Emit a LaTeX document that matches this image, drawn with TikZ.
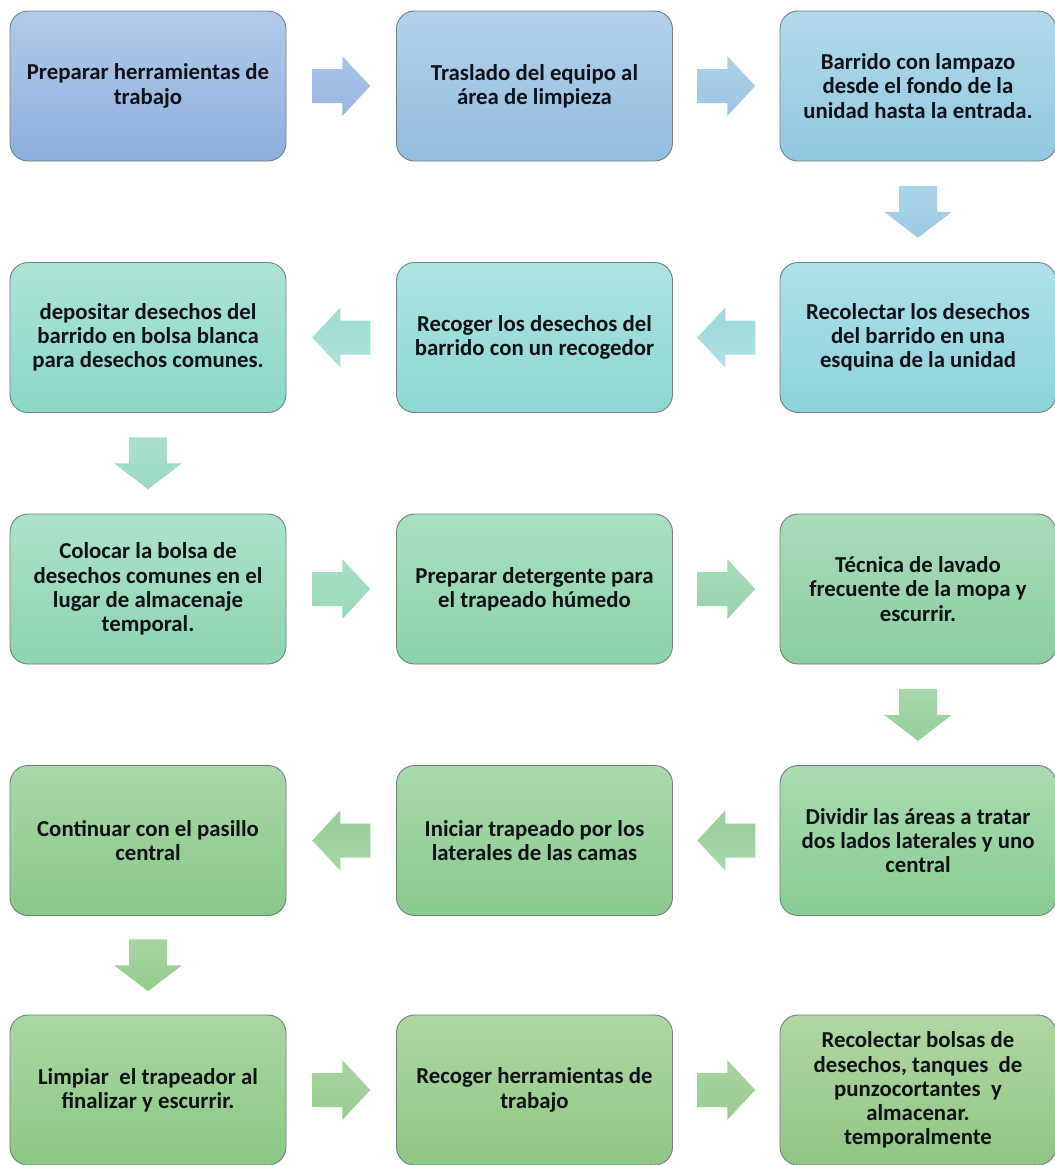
\documentclass[tikz,border=0pt]{standalone}
\usepackage{fontspec}
\setmainfont{Carlito}
\usetikzlibrary{calc}
\definecolor{txt}{HTML}{111118}
\definecolor{bord}{HTML}{6F8282}
\tikzset{
  box/.style={draw=bord, line width=0.9pt, rounded corners=18pt,
    minimum width=276pt, minimum height=150pt, inner sep=2pt,
    align=center, text=txt,
    font=\fontsize{22.8}{24.2}\selectfont\bfseries},
  harr/.pic={\path[pic actions] (-29,-17) -- (1,-17) -- (1,-30) -- (29,0) -- (1,30) -- (1,17) -- (-29,17) -- cycle;},
  varr/.pic={\path[pic actions] (-19,-26) -- (-19,0) -- (-34,0) -- (0,26) -- (34,0) -- (19,0) -- (19,-26) -- cycle;},
  sh/.code 2 args={\definecolor{shtop}{HTML}{#1}\definecolor{shbot}{HTML}{#2}\pgfkeysalso{/tikz/top color=shtop, /tikz/bottom color=shbot}},
}
\begin{document}
\begin{tikzpicture}[x=1pt,y=-1pt]
\useasboundingbox (0,0) rectangle (1055,1165);
% row 1
\node[box, sh={B2CAEB}{8DAEDC}] (b11) at (148,86) {Preparar herramientas de\\trabajo};
\node[box, sh={B3D1EB}{93BDE0}] (b12) at (534.5,86) {Traslado del equipo al\\área de limpieza};
\node[box, sh={B2D9EB}{91C8E0}] (b13) at (918,86) {Barrido con lampazo\\desde el fondo de la\\unidad hasta la entrada.};
% row 2
\node[box, sh={AEE0E8}{8DD3DA}] (b23) at (918,337.5) {Recolectar los desechos\\del barrido en una\\esquina de la unidad};
\node[box, sh={AEE3E0}{8CD8D2}] (b22) at (534.5,337.5) {Recoger los desechos del\\barrido con un recogedor};
\node[box, sh={ACE3D6}{8AD8C6}] (b21) at (148,337.5) {depositar desechos del\\barrido en bolsa blanca\\para desechos comunes.};
% row 3
\node[box, sh={ACE2CA}{8DD4B1}] (b31) at (148,589) {Colocar la bolsa de\\desechos comunes en el\\lugar de almacenaje\\temporal.};
\node[box, sh={AAE0C2}{8BD2A9}] (b32) at (534.5,589) {Preparar detergente para\\el trapeado húmedo};
\node[box, sh={AADCBA}{8BCEA0}] (b33) at (918,589) {Técnica de lavado\\frecuente de la mopa y\\escurrir.};
% row 4
\node[box, sh={AADBB0}{89CC94}] (b43) at (918,840.5) {Dividir las áreas a tratar\\dos lados laterales y uno\\central};
\node[box, sh={AAD9AC}{8ACA8E}] (b42) at (534.5,840.5) {Iniciar trapeado por los\\laterales de las camas};
\node[box, sh={AAD7A8}{89C888}] (b41) at (148,840.5) {Continuar con el pasillo\\central};
% row 5
\node[box, sh={AAD7A2}{8BC884}] (b51) at (148,1090) {Limpiar~ el trapeador al\\finalizar y escurrir.};
\node[box, sh={AED7A2}{8FC784}] (b52) at (534.5,1090) {Recoger herramientas de\\trabajo};
\node[box, sh={B0D7A2}{91C684}] (b53) at (918,1090) {Recolectar bolsas de\\desechos, tanques~ de\\punzocortantes~ y\\almacenar.\\temporalmente};
% arrows
\pic[sh={A9C5E8}{99B8E0}] at ($(b11.east)!0.5!(b12.west)$) {harr};
\pic[sh={ACD0EA}{9CC4E3}] at ($(b12.east)!0.5!(b13.west)$) {harr};
\pic[sh={ABD4EA}{9BCAE3}] at ($(b13.south)!0.5!(b23.north)$) {varr};
\pic[rotate=180, sh={9ED8DA}{AEE0E2}] at ($(b23.west)!0.5!(b22.east)$) {harr};
\pic[rotate=180, sh={9EDBD0}{AEE2DA}] at ($(b22.west)!0.5!(b21.east)$) {harr};
\pic[sh={AAE0D0}{99D8C4}] at ($(b21.south)!0.5!(b31.north)$) {varr};
\pic[sh={A9E0C6}{98D8B8}] at ($(b31.east)!0.5!(b32.west)$) {harr};
\pic[sh={A8DCBA}{97D2AC}] at ($(b32.east)!0.5!(b33.west)$) {harr};
\pic[sh={A6D8AC}{95CE9C}] at ($(b33.south)!0.5!(b43.north)$) {varr};
\pic[rotate=180, sh={98CE9C}{A8D8AC}] at ($(b43.west)!0.5!(b42.east)$) {harr};
\pic[rotate=180, sh={98CC98}{A8D6A8}] at ($(b42.west)!0.5!(b41.east)$) {harr};
\pic[sh={A6D6A0}{95CA8E}] at ($(b41.south)!0.5!(b51.north)$) {varr};
\pic[sh={A8D6A0}{97CC90}] at ($(b51.east)!0.5!(b52.west)$) {harr};
\pic[sh={AAD4A0}{99CA90}] at ($(b52.east)!0.5!(b53.west)$) {harr};
\end{tikzpicture}
\end{document}
